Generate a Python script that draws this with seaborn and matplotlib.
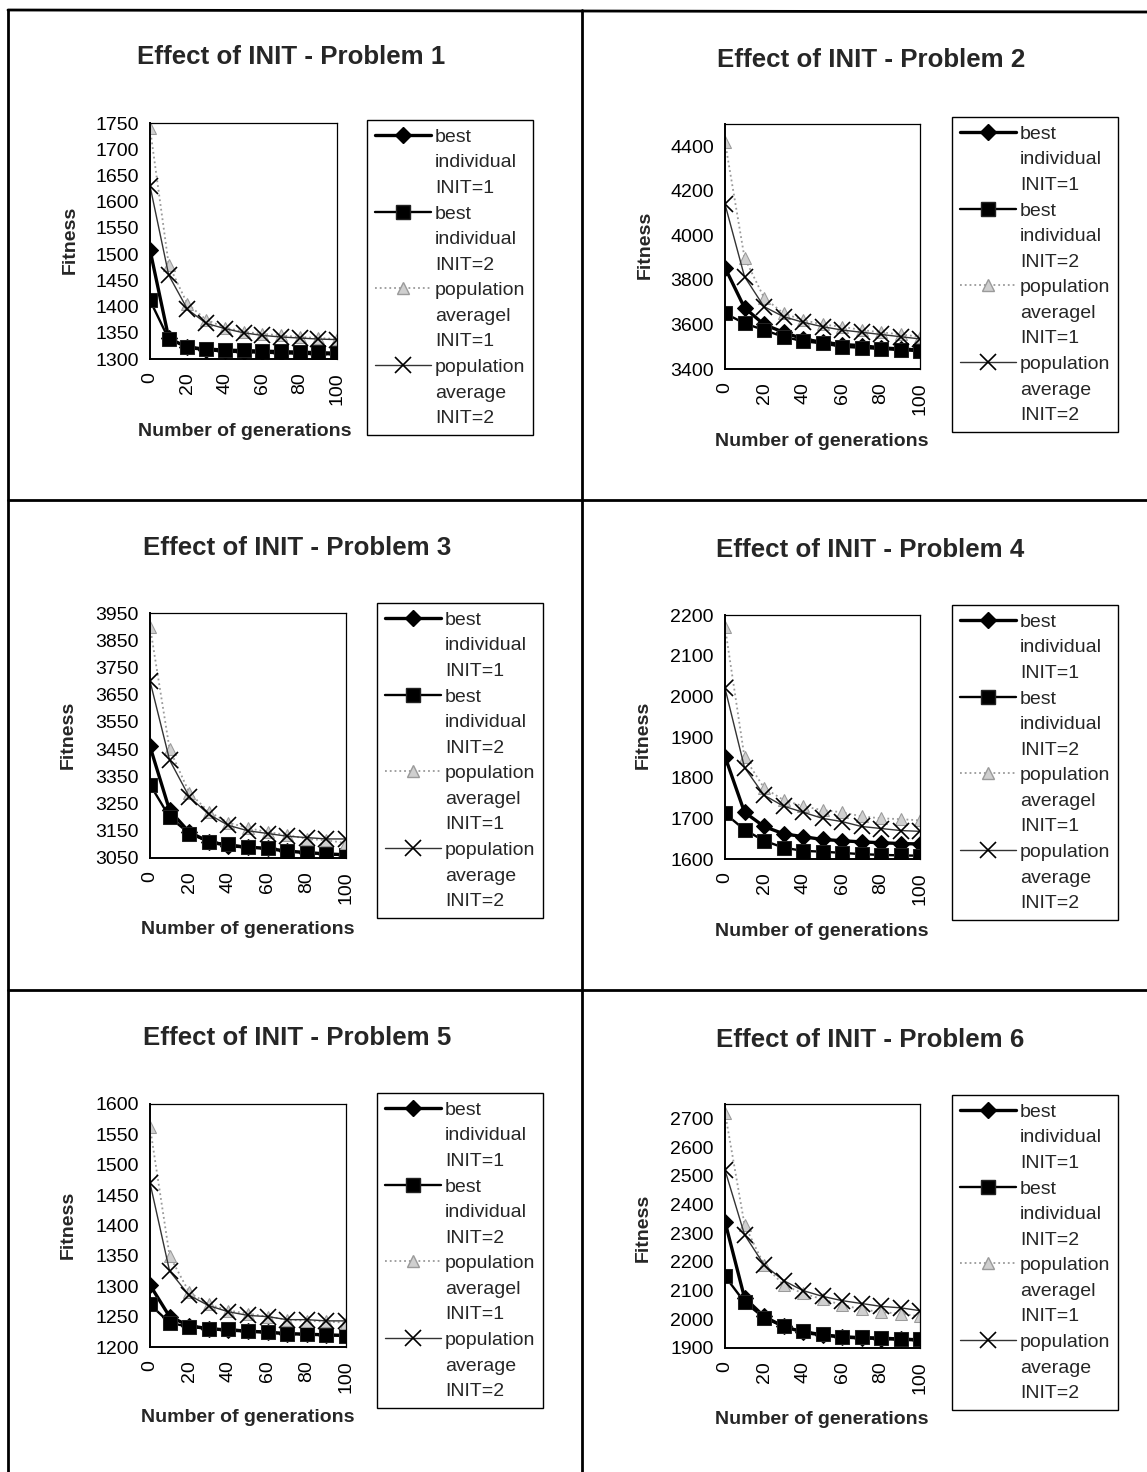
import numpy as np
import pandas as pd
import matplotlib
matplotlib.use("Agg")
import matplotlib.pyplot as plt
from matplotlib.lines import Line2D
import seaborn as sns

# ---------------- data ----------------
generations = [0, 10, 20, 30, 40, 50, 60, 70, 80, 90, 100]
x_tick_labels = ["0", "", "20", "", "40", "", "60", "", "80", "", "100"]
titles = ["Effect of INIT - Problem 1", "Effect of INIT - Problem 2",
          "Effect of INIT - Problem 3", "Effect of INIT - Problem 4",
          "Effect of INIT - Problem 5", "Effect of INIT - Problem 6"]
series_labels = [["best", "individual", "INIT=1"],
                 ["best", "individual", "INIT=2"],
                 ["population", "averagel", "INIT=1"],
                 ["population", "average", "INIT=2"]]

p1_best1 = [1508, 1340, 1322, 1318, 1315, 1314, 1313, 1312, 1311, 1310, 1310]
p1_best2 = [1412, 1338, 1323, 1320, 1318, 1317, 1316, 1315, 1314, 1313, 1312]
p1_pop1 = [1740, 1480, 1405, 1375, 1360, 1352, 1348, 1345, 1342, 1340, 1338]
p1_pop2 = [1630, 1460, 1395, 1368, 1358, 1350, 1345, 1342, 1340, 1338, 1337]

p2_best1 = [3855, 3675, 3600, 3565, 3535, 3520, 3510, 3505, 3495, 3490, 3485]
p2_best2 = [3650, 3605, 3575, 3545, 3525, 3515, 3500, 3495, 3490, 3485, 3480]
p2_pop1 = [4420, 3900, 3720, 3650, 3620, 3600, 3590, 3575, 3565, 3555, 3545]
p2_pop2 = [4140, 3815, 3680, 3635, 3610, 3590, 3575, 3565, 3555, 3545, 3535]

p3_best1 = [3460, 3225, 3145, 3110, 3095, 3090, 3085, 3075, 3070, 3065, 3062]
p3_best2 = [3320, 3200, 3140, 3110, 3100, 3090, 3085, 3075, 3070, 3065, 3060]
p3_pop1 = [3900, 3450, 3290, 3220, 3180, 3160, 3145, 3135, 3120, 3115, 3105]
p3_pop2 = [3700, 3410, 3275, 3210, 3170, 3150, 3140, 3130, 3125, 3120, 3120]

p4_best1 = [1852, 1715, 1680, 1662, 1655, 1648, 1645, 1642, 1640, 1638, 1637]
p4_best2 = [1712, 1672, 1645, 1628, 1620, 1618, 1615, 1612, 1610, 1609, 1608]
p4_pop1 = [2170, 1850, 1775, 1745, 1730, 1720, 1715, 1705, 1700, 1698, 1695]
p4_pop2 = [2020, 1825, 1757, 1730, 1715, 1700, 1692, 1680, 1675, 1670, 1668]

p5_best1 = [1302, 1250, 1235, 1230, 1228, 1226, 1224, 1222, 1221, 1220, 1219]
p5_best2 = [1270, 1240, 1233, 1230, 1229, 1227, 1225, 1222, 1221, 1220, 1218]
p5_pop1 = [1562, 1350, 1290, 1270, 1260, 1255, 1250, 1245, 1243, 1242, 1240]
p5_pop2 = [1470, 1325, 1285, 1268, 1258, 1252, 1250, 1245, 1245, 1243, 1243]

p6_best1 = [2340, 2075, 2010, 1975, 1955, 1945, 1938, 1935, 1933, 1930, 1928]
p6_best2 = [2150, 2060, 2005, 1975, 1958, 1948, 1940, 1938, 1936, 1933, 1930]
p6_pop1 = [2720, 2330, 2190, 2120, 2090, 2070, 2050, 2035, 2025, 2020, 2010]
p6_pop2 = [2520, 2295, 2190, 2135, 2100, 2080, 2065, 2055, 2045, 2040, 2030]

y_limits = [(1300, 1750), (3400, 4500), (3050, 3950), (1600, 2200), (1200, 1600), (1900, 2750)]
y_ticks = [np.arange(1300, 1751, 50), np.arange(3400, 4401, 200), np.arange(3050, 3951, 100),
           np.arange(1600, 2201, 100), np.arange(1200, 1601, 50), np.arange(1900, 2701, 100)]

problems = [
    (p1_best1, p1_best2, p1_pop1, p1_pop2),
    (p2_best1, p2_best2, p2_pop1, p2_pop2),
    (p3_best1, p3_best2, p3_pop1, p3_pop2),
    (p4_best1, p4_best2, p4_pop1, p4_pop2),
    (p5_best1, p5_best2, p5_pop1, p5_pop2),
    (p6_best1, p6_best2, p6_pop1, p6_pop2),
]

# ---------------- style ----------------
sns.set_style("white")
plt.rcParams['font.family'] = ['Liberation Sans', 'DejaVu Sans']

W, H = 1147, 1472
fig = plt.figure(figsize=(W / 100, H / 100), dpi=100)

styles = [
    dict(color="black", linewidth=2.4, linestyle="-", marker="D", markersize=8.5,
         markerfacecolor="black", markeredgecolor="black"),
    dict(color="black", linewidth=1.7, linestyle="-", marker="s", markersize=10,
         markerfacecolor="black", markeredgecolor="#222222"),
    dict(color="#9a9a9a", linewidth=1.3, linestyle=":", marker="^", markersize=9,
         markerfacecolor="#cfcfcf", markeredgecolor="#9a9a9a"),
    dict(color="#333333", linewidth=1.0, linestyle="-", marker="x", markersize=11,
         markeredgewidth=1.2, markeredgecolor="black"),
]

# pixel layouts: axes (l, r, t, b), title center, legend top-left, xlabel center, ylabel center
layouts = [
    dict(ax=(150, 337, 123, 359), title=(291, 57), leg=(367, 120), xl=(245, 431), yl=(70, 240)),
    dict(ax=(725, 920, 124, 369), title=(871, 60), leg=(952, 117), xl=(822, 441), yl=(645, 245)),
    dict(ax=(150, 346, 613, 858), title=(297, 548), leg=(377, 603), xl=(248, 929), yl=(68, 735)),
    dict(ax=(725, 920, 615, 859), title=(870, 550), leg=(952, 605), xl=(822, 932), yl=(643, 735)),
    dict(ax=(150, 346, 1104, 1347), title=(297, 1038), leg=(377, 1093), xl=(248, 1417), yl=(68, 1225)),
    dict(ax=(725, 920, 1104, 1348), title=(870, 1040), leg=(952, 1095), xl=(822, 1419), yl=(643, 1228)),
]


def fx(px):
    return px / W


def fy(py):
    return 1 - py / H


for i, (series, lay) in enumerate(zip(problems, layouts)):
    l, r, t, b = lay["ax"]
    ax = fig.add_axes([fx(l), fy(b), (r - l) / W, (b - t) / H])
    for vals, st in zip(series, styles):
        df = pd.DataFrame({"gen": generations, "fit": vals})
        sns.lineplot(data=df, x="gen", y="fit", ax=ax, legend=False, **st)
    ax.set_xlim(0, 100)
    ax.set_ylim(*y_limits[i])
    ax.set_xticks(generations)
    ax.set_xticklabels(x_tick_labels, rotation=90, fontsize=14)
    ax.set_yticks(y_ticks[i])
    ax.set_yticklabels([str(v) for v in y_ticks[i]], fontsize=14)
    ax.tick_params(axis="x", direction="inout", length=11, width=1.2, pad=4, colors="black")
    ax.tick_params(axis="y", direction="inout", length=10, width=1.2, pad=3, colors="black")
    for s in ax.spines.values():
        s.set_color("black")
        s.set_linewidth(0.9)
    ax.spines["left"].set_linewidth(1.4)
    ax.spines["bottom"].set_linewidth(1.4)
    ax.grid(False)

    ax.set_xlabel("Number of generations", fontsize=14, fontweight="bold")
    ax.set_ylabel("Fitness", fontsize=14, fontweight="bold")
    ax.xaxis.set_label_coords(fx(lay["xl"][0]), fy(lay["xl"][1]), transform=fig.transFigure)
    ax.yaxis.set_label_coords(fx(lay["yl"][0]), fy(lay["yl"][1]), transform=fig.transFigure)
    ax.xaxis.label.set_va("center")
    ax.yaxis.label.set_va("center")

    fig.text(fx(lay["title"][0]), fy(lay["title"][1]), titles[i], fontsize=18.6,
             fontweight="bold", ha="center", va="center")

    handles, labels = [], []
    for st, lab in zip(styles, series_labels):
        handles.append(Line2D([], [], **st))
        labels.append(lab[0])
        for extra in lab[1:]:
            handles.append(Line2D([], [], linestyle="none"))
            labels.append(extra)
    leg = ax.legend(handles, labels, loc="upper left",
                    bbox_to_anchor=(fx(lay["leg"][0]), fy(lay["leg"][1])),
                    bbox_transform=fig.transFigure, fontsize=14, frameon=True,
                    fancybox=False, framealpha=1, edgecolor="black",
                    handlelength=2.85, handletextpad=0.22, labelspacing=0.41,
                    borderpad=0.42, borderaxespad=0)
    leg.get_frame().set_linewidth(1.0)
    leg.set_clip_on(False)

# ---------------- panel frame lines ----------------
lw = 2.0
frame_lines = [
    ((8, 8), (10, H)),          # left border
    ((8, W), (10, 12)),         # top border
    ((582, 582), (10, H)),      # centre divider
    ((8, W), (500, 500)),       # first row divider
    ((8, W), (990, 990)),       # second row divider
]
for xs, ys in frame_lines:
    fig.add_artist(Line2D([fx(xs[0]), fx(xs[1])], [fy(ys[0]), fy(ys[1])],
                          color="black", linewidth=lw, transform=fig.transFigure))

fig.savefig("out.png", dpi=100)
